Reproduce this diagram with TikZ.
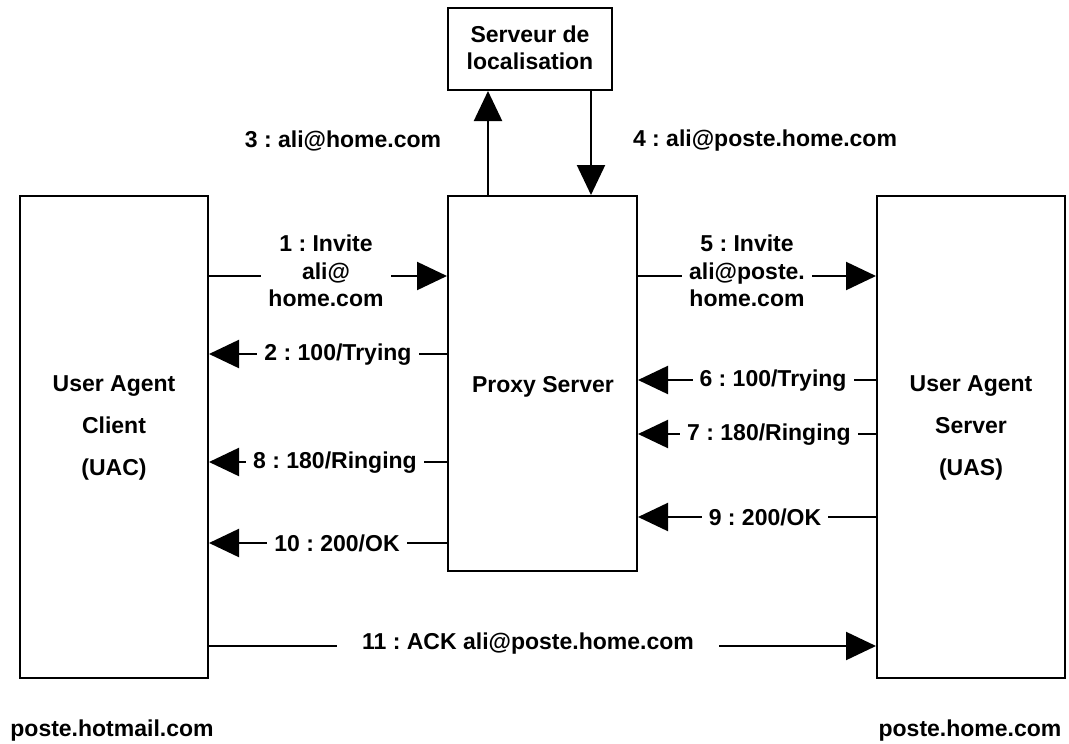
\documentclass[tikz,border=0pt]{standalone}
\usepackage{fontspec}
\setmainfont{Liberation Sans}
\usetikzlibrary{arrows.meta}
\begin{document}
\frenchspacing
\begin{tikzpicture}[x=1pt,y=-1pt,
  box/.style={draw,line width=2pt,minimum width=#1,inner sep=0pt},
  lbl/.style={font=\fontsize{23}{27.5}\selectfont\bfseries\frenchspacing,align=center,inner sep=0pt},
  cut/.style={lbl,fill=white,inner xsep=7pt,inner ysep=1pt},
  arr/.style={line width=2.2pt,-{Triangle[length=30pt,width=28pt]}}]
\useasboundingbox (0,0) rectangle (1069,744);
\node[box=188pt,minimum height=482pt] (uac) at (114,437) {};
\node[box=189pt,minimum height=375pt] (proxy) at (542.5,383.5) {};
\node[box=188pt,minimum height=482pt] (uas) at (971,437) {};
\node[box=164pt,minimum height=82pt] (loc) at (530,49) {};
\node[lbl] (loct) at (530,48) {Serveur de\\localisation};
\node[lbl,font=\fontsize{23}{42}\selectfont\bfseries] (uact) at (114,428) {User Agent\\Client\\(UAC)};
\node[lbl,font=\fontsize{23}{42}\selectfont\bfseries] (uast) at (971,428) {User Agent\\Server\\(UAS)};
\node[lbl] (proxyt) at (543,387) {Proxy Server};
\node[lbl] (hot) at (112,731) {poste.hotmail.com};
\node[lbl] (home) at (970,731) {poste.home.com};
% coordinates
\coordinate (c3) at (488,0);
\coordinate (c4) at (591,0);
\coordinate (y1) at (0,276);
\coordinate (y2) at (0,354);
\coordinate (y6) at (0,380);
\coordinate (y7) at (0,434);
\coordinate (y8) at (0,462);
\coordinate (y9) at (0,517);
\coordinate (y10) at (0,543);
\coordinate (y11) at (0,646);
% arrows
\draw[arr] (proxy.north -| c3) -- (loc.south -| c3);
\draw[arr] (loc.south -| c4) -- (proxy.north -| c4);
\draw[arr] (uac.east |- y1) -- (proxy.west |- y1);
\draw[arr] (proxy.east |- y1) -- (uas.west |- y1);
\draw[arr] (proxy.west |- y2) -- (uac.east |- y2);
\draw[arr] (proxy.west |- y8) -- (uac.east |- y8);
\draw[arr] (proxy.west |- y10) -- (uac.east |- y10);
\draw[arr] (uas.west |- y6) -- (proxy.east |- y6);
\draw[arr] (uas.west |- y7) -- (proxy.east |- y7);
\draw[arr] (uas.west |- y9) -- (proxy.east |- y9);
\draw[arr] (uac.east |- y11) -- (uas.west |- y11);
% labels
\node[lbl] (l3) at (343,141) {3 : ali@home.com};
\node[lbl] (l4) at (765,141) {4 : ali@poste.home.com};
\node[cut] (l1) at (326,271) {1 : Invite\\ali@\\home.com};
\node[cut] (l5) at (747,271) {5 : Invite\\ali@poste.\\home.com};
\node[cut] (l2) at (338,355) {2 : 100/Trying};
\node[cut] (l8) at (335,463) {8 : 180/Ringing};
\node[cut] (l10) at (337,543) {10 : 200/OK};
\node[cut] (l6) at (773,381) {6 : 100/Trying};
\node[cut] (l7) at (769,435) {7 : 180/Ringing};
\node[cut] (l9) at (765,517) {9 : 200/OK};
\node[cut,inner xsep=25pt] (l11) at (528,644) {11 : ACK ali@poste.home.com};
\end{tikzpicture}
\end{document}
